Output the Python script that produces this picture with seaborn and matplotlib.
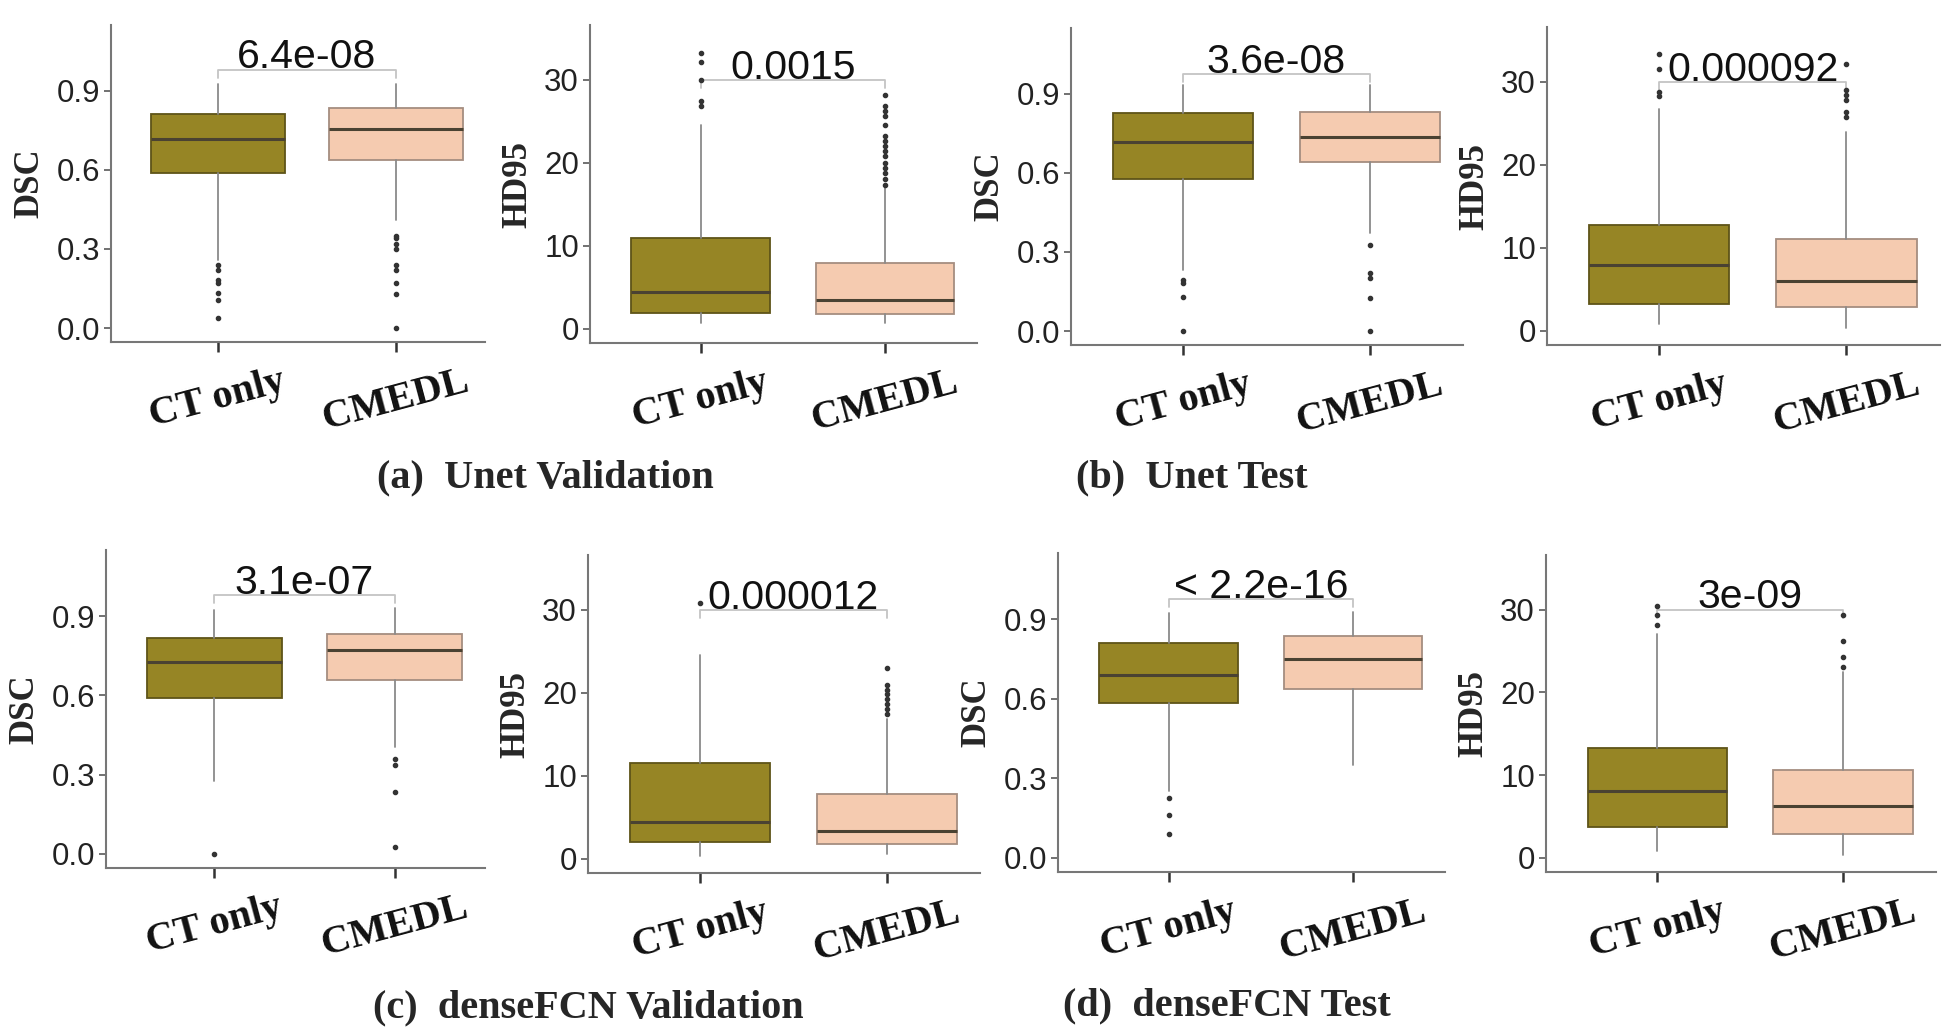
import matplotlib
matplotlib.use("Agg")
import matplotlib.pyplot as plt
import matplotlib.transforms as mtransforms
import seaborn as sns

# groups compared in every panel
groups = ["CT only", "CMEDL"]

# panel order: (a) DSC, (a) HD95, (b) DSC, (b) HD95, (c) DSC, (c) HD95, (d) DSC, (d) HD95
metrics = ["DSC", "HD95", "DSC", "HD95", "DSC", "HD95", "DSC", "HD95"]
p_values = ["6.4e-08", "0.0015", "3.6e-08", "0.000092",
            "3.1e-07", "0.000012", "< 2.2e-16", "3e-09"]
bracket_y = [0.98, 30.0, 0.975, 30.0, 0.98, 30.0, 0.975, 30.0]
captions = ["(a)  Unet Validation", "(b)  Unet Test",
            "(c)  denseFCN Validation", "(d)  denseFCN Test"]

# box summaries, CT only
ct_whislo = [0.26, 0.68, 0.232, 0.8, 0.278, 0.3, 0.251, 0.8]
ct_q1 = [0.587, 1.89, 0.577, 3.2, 0.592, 2.09, 0.584, 3.73]
ct_med = [0.719, 4.42, 0.716, 7.9, 0.727, 4.4, 0.69, 8.03]
ct_q3 = [0.814, 11.0, 0.827, 12.7, 0.818, 11.6, 0.81, 13.25]
ct_whishi = [0.925, 24.5, 0.934, 26.7, 0.923, 24.6, 0.922, 27.1]
ct_fliers = [
    [0.241, 0.222, 0.184, 0.171, 0.133, 0.108, 0.038],
    [33.2, 32.2, 30.0, 27.4, 26.8],
    [0.194, 0.181, 0.130, 0.0],
    [33.3, 31.5, 28.8, 28.3],
    [0.0],
    [30.8],
    [0.225, 0.162, 0.092],
    [30.4, 29.3, 28.1],
]

# box summaries, CMEDL
cm_whislo = [0.41, 0.68, 0.371, 0.4, 0.405, 0.6, 0.352, 0.4]
cm_q1 = [0.638, 1.77, 0.641, 2.9, 0.66, 1.85, 0.637, 2.9]
cm_med = [0.757, 3.5, 0.737, 6.0, 0.771, 3.4, 0.751, 6.3]
cm_q3 = [0.834, 7.9, 0.833, 11.1, 0.834, 7.86, 0.837, 10.6]
cm_whishi = [0.925, 17.1, 0.934, 23.9, 0.929, 16.8, 0.928, 22.5]
cm_fliers = [
    [0.35, 0.34, 0.32, 0.30, 0.24, 0.22, 0.17, 0.13, 0.0],
    [28.2, 26.8, 26.2, 25.6, 24.6, 23.2, 22.6, 22.0, 21.4, 20.8,
     20.0, 19.4, 18.8, 18.0, 17.3],
    [0.326, 0.219, 0.2, 0.124, 0.0],
    [32.1, 29.0, 28.4, 27.8, 26.4, 25.8],
    [0.36, 0.335, 0.234, 0.025],
    [23.0, 20.9, 20.4, 19.8, 19.2, 18.6, 18.0, 17.4],
    [],
    [29.4, 26.2, 24.3, 23.1],
]

fill_colors = ["#968525", "#F5CBB0"]
edge_colors = ["#5e5418", "#a58d80"]

# axes placement in pixels: left, right, top, bottom
panel_px = [
    (111, 485, 25, 342), (590, 977, 25, 343),
    (1071, 1463, 28, 345), (1547, 1940, 27, 345),
    (106, 485, 550, 868), (588, 980, 555, 873),
    (1058, 1445, 553, 872), (1546, 1936, 555, 872),
]
caption_px = [(377, 487), (1076, 487), (373, 1017), (1063, 1015)]

W, H = 1950, 1034
sns.set_style("white")
plt.rcParams["font.family"] = ["Liberation Sans", "DejaVu Sans"]
fig = plt.figure(figsize=(W / 100, H / 100), dpi=100)

serif = ["Liberation Serif", "DejaVu Serif"]
# nudge x tick labels a little to the left, like the reference
shift_left = mtransforms.ScaledTranslation(-14 / 100, 0, fig.dpi_scale_trans)

for i in range(8):
    l, r, t, b = panel_px[i]
    ax = fig.add_axes([l / W, 1 - b / H, (r - l) / W, (b - t) / H])

    stats = [
        dict(med=ct_med[i], q1=ct_q1[i], q3=ct_q3[i],
             whislo=ct_whislo[i], whishi=ct_whishi[i], fliers=ct_fliers[i]),
        dict(med=cm_med[i], q1=cm_q1[i], q3=cm_q3[i],
             whislo=cm_whislo[i], whishi=cm_whishi[i], fliers=cm_fliers[i]),
    ]
    art = ax.bxp(stats, positions=[0, 1], widths=0.75, patch_artist=True,
                 showcaps=False,
                 whiskerprops=dict(color="#8a8a8a", lw=1.3),
                 medianprops=dict(color="#4a4232", lw=2.2),
                 flierprops=dict(marker="o", markersize=3.0,
                                 markerfacecolor="#333333",
                                 markeredgecolor="#333333"))
    for patch, fc, ec in zip(art["boxes"], fill_colors, edge_colors):
        patch.set_facecolor(fc)
        patch.set_edgecolor(ec)
        patch.set_linewidth(1.3)

    if metrics[i] == "DSC":
        ax.set_ylim(-0.053, 1.15)
        ax.set_yticks([0.0, 0.3, 0.6, 0.9])
        ax.set_yticklabels(["0.0", "0.3", "0.6", "0.9"])
        drop = 0.03
        pad = 0.005
    else:
        ax.set_ylim(-1.7, 36.6)
        ax.set_yticks([0, 10, 20, 30])
        drop = 1.0
        pad = 0.15
    ax.set_xlim(-0.6, 1.5)

    # significance bracket with the p-value on top
    yb = bracket_y[i]
    ax.plot([0, 0, 1, 1], [yb - drop, yb, yb, yb - drop],
            color="#c4c4c4", lw=1.3, zorder=1)
    ax.text(0.5, yb + pad, p_values[i], ha="center", va="baseline",
            fontsize=29.5, color="#111111")

    ax.set_xticks([0, 1])
    ax.set_xticklabels(groups, rotation=15, fontsize=29, fontweight="bold",
                       family=serif, color="#111111")
    for lab in ax.get_xticklabels():
        lab.set_transform(lab.get_transform() + shift_left)
    ax.set_ylabel(metrics[i], fontsize=25, fontweight="bold", family=serif,
                  labelpad=7)
    ax.tick_params(axis="y", labelsize=22.5, length=5, width=1.3,
                   color="#666666", labelcolor="#222222", left=True, pad=3)
    ax.tick_params(axis="x", length=7, width=1.8, color="#333333",
                   bottom=True, pad=8)
    sns.despine(ax=ax)
    for side in ["left", "bottom"]:
        ax.spines[side].set_color("#777777")
        ax.spines[side].set_linewidth(1.5)

for (cx, cy), cap in zip(caption_px, captions):
    fig.text(cx / W, 1 - cy / H, cap, ha="left", va="baseline",
             fontsize=29, fontweight="bold", family=serif)

fig.savefig("out.png", dpi=100)
